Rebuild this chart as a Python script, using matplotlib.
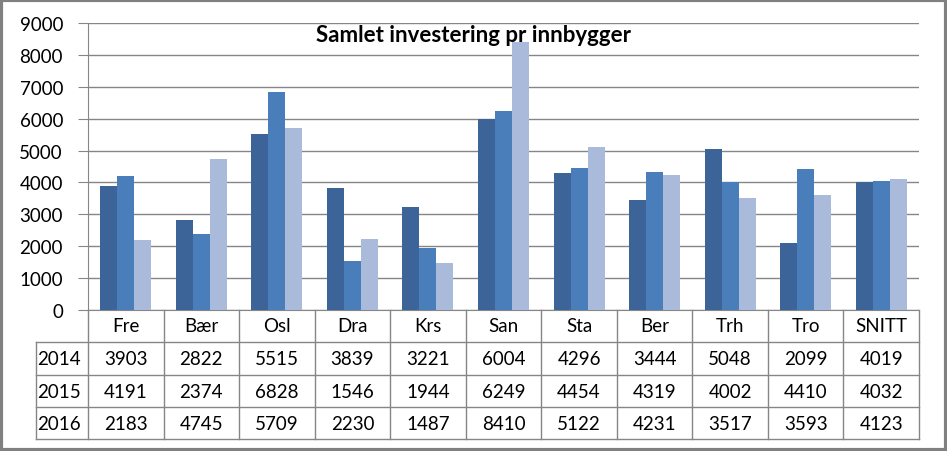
import numpy as np
import matplotlib.pyplot as plt
from matplotlib.patches import Rectangle

categories = ['Fre', 'Bær', 'Osl', 'Dra', 'Krs', 'San', 'Sta', 'Ber', 'Trh', 'Tro', 'SNITT']
years = ['2014', '2015', '2016']
v2014 = [3903, 2822, 5515, 3839, 3221, 6004, 4296, 3444, 5048, 2099, 4019]
v2015 = [4191, 2374, 6828, 1546, 1944, 6249, 4454, 4319, 4002, 4410, 4032]
v2016 = [2183, 4745, 5709, 2230, 1487, 8410, 5122, 4231, 3517, 3593, 4123]
series = [v2014, v2015, v2016]
colors = ['#3D6499', '#4A7EBB', '#A9BADA']

plt.rcParams['font.family'] = ['Lato', 'DejaVu Sans']
fs = 13.5

W, H = 947, 452
fig = plt.figure(figsize=(W / 100, H / 100), dpi=100)
ax = fig.add_axes([88 / W, 1 - 311 / H, (919 - 88) / W, (311 - 24) / H])

x = np.arange(len(categories))
bw = 0.225
for i, (vals, c) in enumerate(zip(series, colors)):
    ax.bar(x + (i - 1) * bw, vals, width=bw, color=c, zorder=3)

ax.set_xlim(-0.5, len(categories) - 0.5)
ax.set_ylim(0, 9000)
ax.set_yticks(range(0, 9001, 1000))
ax.yaxis.grid(True, color='#868686', linewidth=1)
ax.set_axisbelow(True)
ax.tick_params(axis='y', length=7, color='#868686', labelsize=fs, pad=11)
ax.tick_params(axis='x', bottom=False, labelbottom=False)
for s in ['top', 'right']:
    ax.spines[s].set_visible(False)
for s in ['left', 'bottom']:
    ax.spines[s].set_color('#868686')

fig.text(473 / W, 1 - 35 / H, 'Samlet investering pr innbygger',
         ha='center', va='center', fontsize=16, fontweight='bold')

# data table below the axis
tr = ax.get_xaxis_transform()
ph = 311 - 24
row_y = [0, -32 / ph, -65 / ph, -97 / ph, -129 / ph]
left = -0.5 - (88 - 36) / 75.5
right = len(categories) - 0.5
lc = '#868686'
for y in row_y[1:]:
    ax.plot([left, right], [y, y], transform=tr, color=lc, lw=1, clip_on=False)
for k in range(len(categories) + 1):
    ax.plot([k - 0.5, k - 0.5], [0, row_y[-1]], transform=tr, color=lc, lw=1, clip_on=False)
ax.plot([left, left], [row_y[1], row_y[-1]], transform=tr, color=lc, lw=1, clip_on=False)

for j, cat in enumerate(categories):
    ax.text(j, (row_y[0] + row_y[1]) / 2, cat, transform=tr, ha='center', va='center', fontsize=fs)
for r, (yr, vals) in enumerate(zip(years, series)):
    yc = (row_y[r + 1] + row_y[r + 2]) / 2
    ax.text(left + 0.02, yc, yr, transform=tr, ha='left', va='center', fontsize=fs)
    for j, v in enumerate(vals):
        ax.text(j, yc, str(v), transform=tr, ha='center', va='center', fontsize=fs)

fig.patches.append(Rectangle((0.0015, 0.003), 0.997, 0.994, transform=fig.transFigure,
                             fill=False, edgecolor='#808080', linewidth=3))

fig.savefig('out.png', dpi=100)
